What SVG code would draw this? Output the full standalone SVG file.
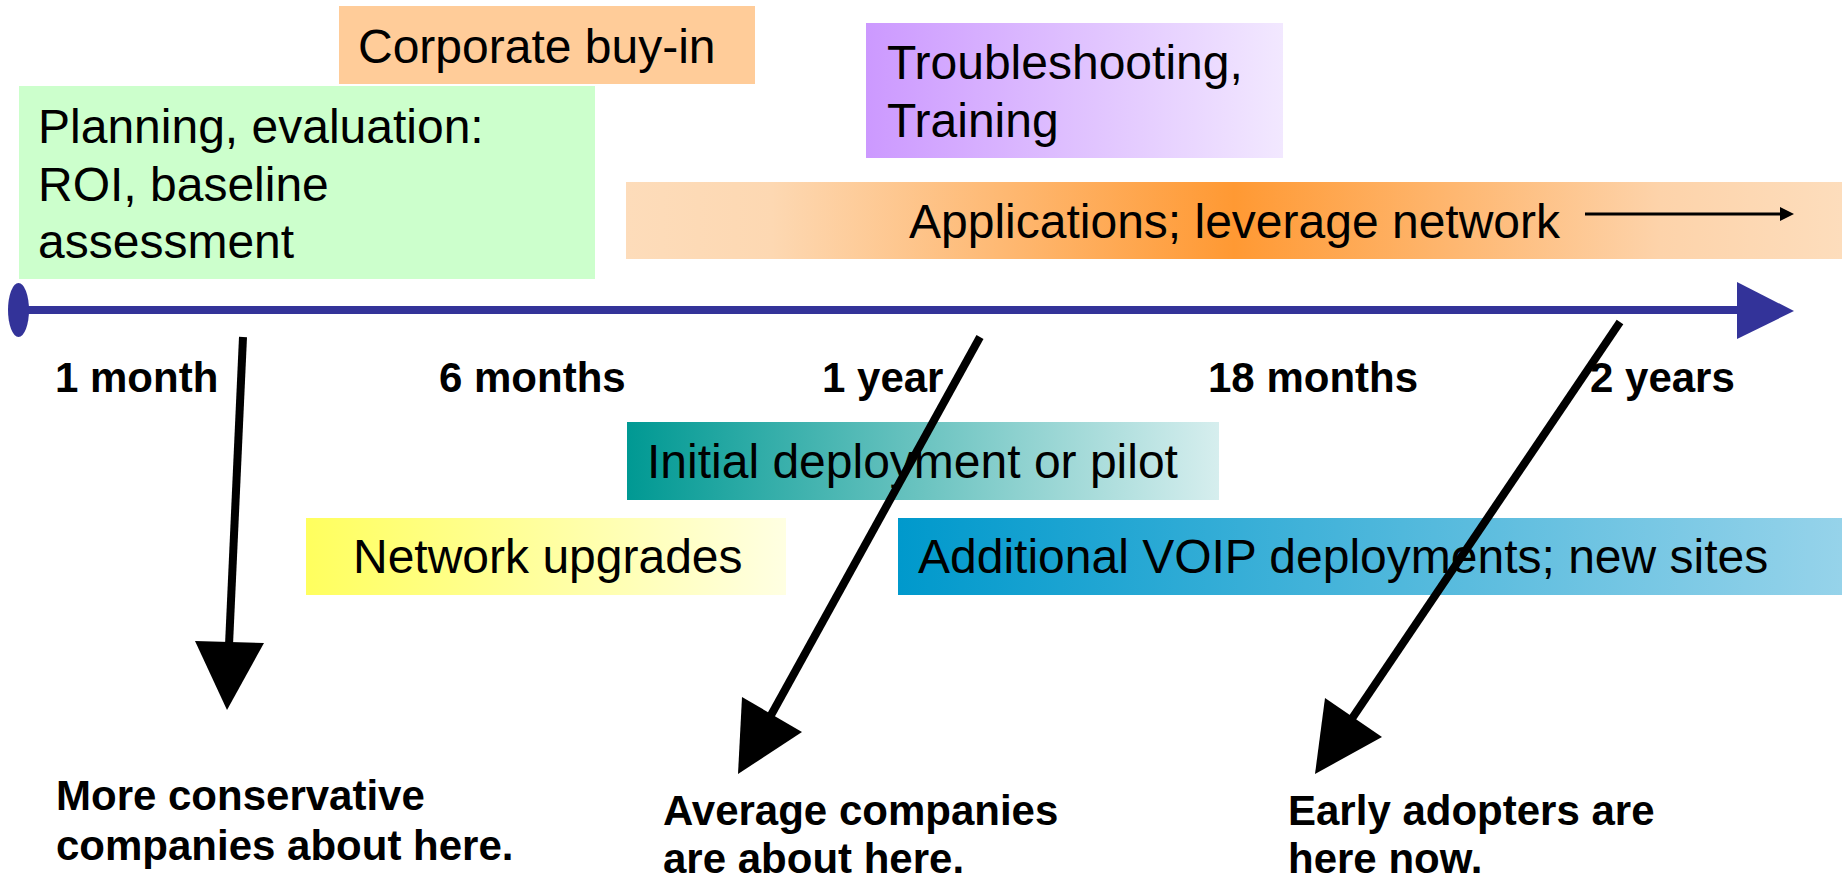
<svg xmlns="http://www.w3.org/2000/svg" width="1842" height="880" viewBox="0 0 1842 880">
  <defs>
    <linearGradient id="gPurple" x1="0" y1="0" x2="1" y2="0">
      <stop offset="0" stop-color="#CC99FF"/>
      <stop offset="1" stop-color="#F2E8FF"/>
    </linearGradient>
    <linearGradient id="gOrange" x1="0" y1="0" x2="1" y2="0">
      <stop offset="0" stop-color="#FDDCBA"/>
      <stop offset="0.12" stop-color="#FDD8B2"/>
      <stop offset="0.5" stop-color="#FF9933"/>
      <stop offset="0.85" stop-color="#FDD3AA"/>
      <stop offset="1" stop-color="#FDDDBC"/>
    </linearGradient>
    <linearGradient id="gTeal" x1="0" y1="0" x2="1" y2="0">
      <stop offset="0" stop-color="#009993"/>
      <stop offset="1" stop-color="#D6EEEE"/>
    </linearGradient>
    <linearGradient id="gYellow" x1="0" y1="0" x2="1" y2="0">
      <stop offset="0" stop-color="#FFFF5E"/>
      <stop offset="1" stop-color="#FFFFE2"/>
    </linearGradient>
    <linearGradient id="gBlue" x1="0" y1="0" x2="1" y2="0">
      <stop offset="0" stop-color="#0099CC"/>
      <stop offset="1" stop-color="#96D3EA"/>
    </linearGradient>
  </defs>
  <style>
    .t { font-family: "Liberation Sans", Arial, sans-serif; font-size: 48px; fill: #000; }
    .b { font-family: "Liberation Sans", Arial, sans-serif; font-size: 42px; font-weight: bold; fill: #000; }
    .arrow { stroke: #000; stroke-width: 8; fill: none; }
    .head { fill: #000; }
    .axis { stroke: #333399; stroke-width: 8; }
    .axisfill { fill: #333399; }
  </style>
  <rect width="1842" height="880" fill="#FFFFFF"/>

  <g id="corporate-buy-in">
    <rect x="339" y="6" width="416" height="78" fill="#FFCC99"/>
    <text class="t" x="358" y="63">Corporate buy-in</text>
  </g>

  <g id="planning">
    <rect x="19" y="86" width="576" height="193" fill="#CCFFCC"/>
    <text class="t" x="38" y="143">Planning, evaluation:</text>
    <text class="t" x="38" y="201">ROI, baseline</text>
    <text class="t" x="38" y="258">assessment</text>
  </g>

  <g id="troubleshooting">
    <rect x="866" y="23" width="417" height="135" fill="url(#gPurple)"/>
    <text class="t" x="887" y="79">Troubleshooting,</text>
    <text class="t" x="887" y="137">Training</text>
  </g>

  <g id="applications">
    <rect x="626" y="182" width="1216" height="77" fill="url(#gOrange)"/>
    <text class="t" x="909" y="238">Applications; leverage network</text>
    <line x1="1585" y1="214" x2="1782" y2="214" stroke="#000" stroke-width="3"/>
    <polygon points="1780,207 1794,214 1780,221" fill="#000"/>
  </g>

  <g id="initial-deployment">
    <rect x="627" y="422" width="592" height="78" fill="url(#gTeal)"/>
    <text class="t" x="647" y="478">Initial deployment or pilot</text>
  </g>

  <g id="network-upgrades">
    <rect x="306" y="518" width="480" height="77" fill="url(#gYellow)"/>
    <text class="t" x="353" y="573">Network upgrades</text>
  </g>

  <g id="additional-voip">
    <rect x="898" y="518" width="944" height="77" fill="url(#gBlue)"/>
    <text class="t" x="918" y="573">Additional VOIP deployments; new sites</text>
  </g>

  <g id="timeline">
    <line class="axis" x1="26" y1="310" x2="1740" y2="310"/>
    <ellipse class="axisfill" cx="18.5" cy="310" rx="10.5" ry="27"/>
    <polygon class="axisfill" points="1737,282 1794,311 1737,339"/>
  </g>

  <g id="time-labels">
    <text class="b" x="55" y="392">1 month</text>
    <text class="b" x="439" y="392">6 months</text>
    <text class="b" x="822" y="392">1 year</text>
    <text class="b" x="1208" y="392">18 months</text>
    <text class="b" x="1590" y="392">2 years</text>
  </g>

  <g id="label-conservative">
    <text class="b" x="56" y="810">More conservative</text>
    <text class="b" x="56" y="860">companies about here.</text>
  </g>

  <g id="label-average">
    <text class="b" x="663" y="825">Average companies</text>
    <text class="b" x="663" y="873">are about here.</text>
  </g>

  <g id="label-early">
    <text class="b" x="1288" y="825">Early adopters are</text>
    <text class="b" x="1288" y="873">here now.</text>
  </g>

  <g id="connectors">
    <line class="arrow" x1="243" y1="337" x2="229" y2="645"/>
    <polygon class="head" points="195,641 264,643 227,710"/>
    <line class="arrow" x1="980" y1="337" x2="770" y2="717"/>
    <polygon class="head" points="742,697 802,732 738,774"/>
    <line class="arrow" x1="1620" y1="322" x2="1351" y2="720"/>
    <polygon class="head" points="1325,698 1382,737 1315,774"/>
  </g>
</svg>
